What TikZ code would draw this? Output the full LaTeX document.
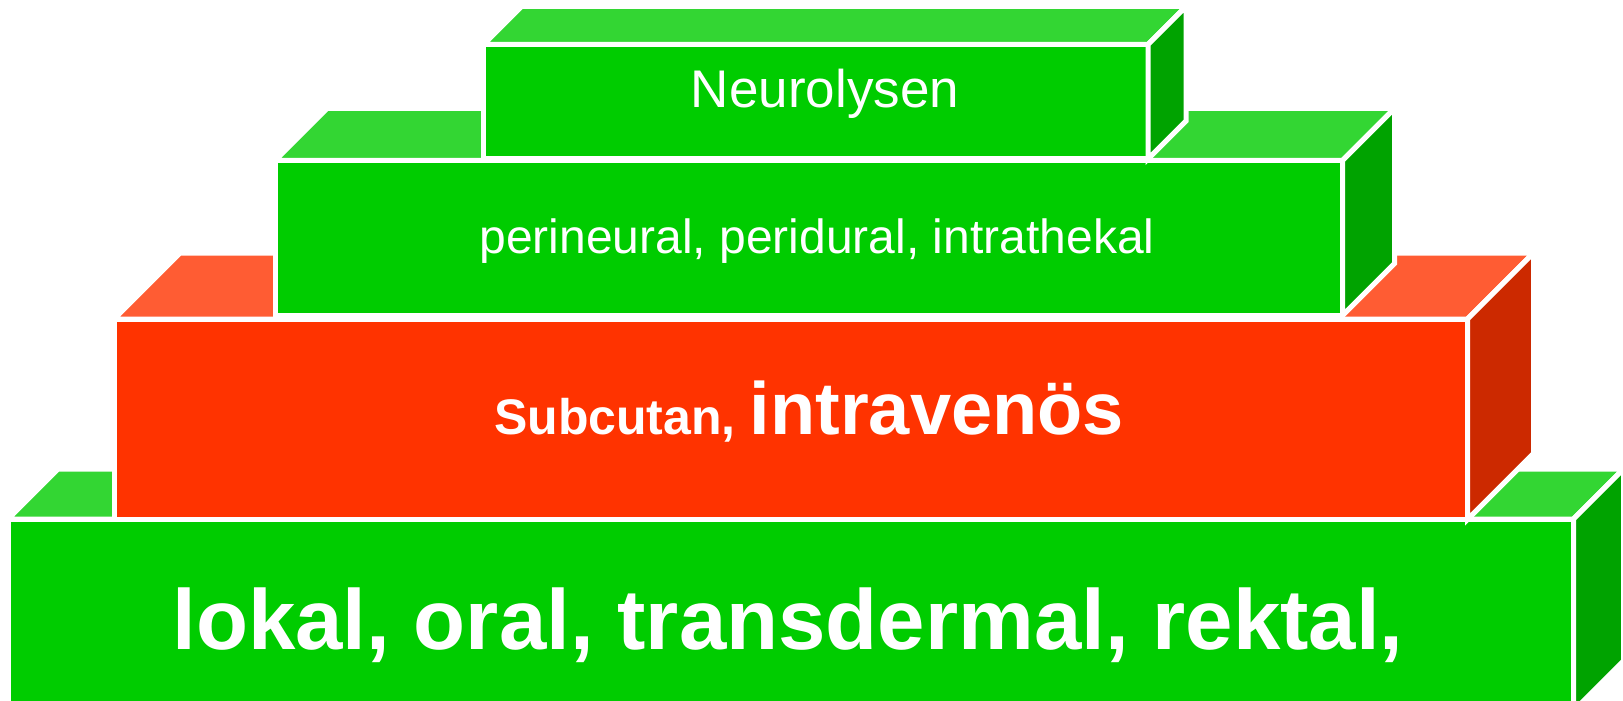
\documentclass[tikz,border=0pt]{standalone}
\usepackage{fontspec}
\setmainfont{Liberation Sans}
\usepackage{tikz}
\usepackage{xcolor}
\definecolor{FrontGreen}{HTML}{00CC00}
\definecolor{TopGreen}{HTML}{33D633}
\definecolor{SideGreen}{HTML}{00A300}
\definecolor{FrontRed}{HTML}{FF3300}
\definecolor{TopRed}{HTML}{FF5C33}
\definecolor{SideRed}{HTML}{CC2900}
\tikzset{
  face/.style={draw=white, line width=2.5pt},
  lbl/.style={text=white, inner sep=0pt, anchor=base}
}
% #1 left, #2 top, #3 right, #4 bottom, #5 depth, #6 front, #7 top, #8 side
\newcommand{\drawbrick}[8]{%
  \path[face, fill=#6] (#1,#2) rectangle (#3,#4);
  \path[face, fill=#7] (#1,#2) -- ++(#5,-#5) -- (#3+#5,#2-#5) -- (#3,#2) -- cycle;
  \path[face, fill=#8] (#3,#2) -- ++(#5,-#5) -- (#3+#5,#4-#5) -- (#3,#4) -- cycle;
}

\begin{document}
\begin{tikzpicture}[x=0.5pt, y=-0.5pt]
\clip (0,0) rectangle (1623,701);

% pyramid, bottom to top
\drawbrick{8}{519}{1573.5}{711}{50}{FrontGreen}{TopGreen}{SideGreen}
\drawbrick{114}{319}{1467.5}{519.5}{66}{FrontRed}{TopRed}{SideRed}
\drawbrick{275}{160.5}{1342.5}{315.5}{52}{FrontGreen}{TopGreen}{SideGreen}
\drawbrick{483.5}{44.5}{1148}{159}{38}{FrontGreen}{TopGreen}{SideGreen}

% labels
\node[lbl, font=\bfseries\fontsize{42.6}{42.6}\selectfont] (lokal) at (788,649)
  {lokal, oral, transdermal, rektal,};
\node[lbl, font=\bfseries] (venoes) at (809,434)
  {\fontsize{25}{25}\selectfont Subcutan, \fontsize{37}{37}\selectfont intravenös};
\node[lbl, font=\fontsize{24}{24}\selectfont] (peri) at (817,253)
  {perineural, peridural, intrathekal};
\node[lbl, font=\fontsize{26.5}{26.5}\selectfont] (neuro) at (825,108)
  {Neurolysen};
\end{tikzpicture}
\end{document}
